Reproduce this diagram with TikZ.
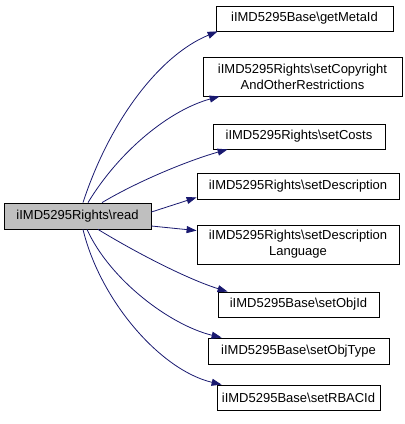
\documentclass[tikz,border=0pt]{standalone}
\usepackage{fontspec}
\setmainfont{Liberation Sans}
\usetikzlibrary{arrows.meta}
\definecolor{edgeblue}{RGB}{25,25,112}
\definecolor{callgray}{RGB}{191,191,191}

\begin{document}
\begin{tikzpicture}[x=1pt, y=-1pt,
  fn/.style={draw, rectangle, inner sep=0pt, align=center,
    font=\fontsize{13}{16}\selectfont, line width=0.8pt},
  call/.style={draw=edgeblue, line width=0.8pt,
    -{Triangle[length=10pt, width=7pt, fill=edgeblue]}}]

\useasboundingbox (0,0) rectangle (405,424);

% caller
\node[fn, fill=callgray, minimum width=147pt, minimum height=26pt] (read) at (77.5,216) {iIMD5295Rights\textbackslash read};

% callees
\node[fn, minimum width=177pt, minimum height=25pt] (meta) at (304.5,18.5) {iIMD5295Base\textbackslash getMetaId};
\node[fn, minimum width=199pt, minimum height=39pt] (copy) at (302.5,76.5) {iIMD5295Rights\textbackslash setCopyright\\AndOtherRestrictions};
\node[fn, minimum width=172pt, minimum height=25pt] (costs) at (299,136.5) {iIMD5295Rights\textbackslash setCosts};
\node[fn, minimum width=202pt, minimum height=26pt] (desc) at (298,186) {iIMD5295Rights\textbackslash setDescription};
\node[fn, minimum width=202pt, minimum height=39pt] (lang) at (298,244.5) {iIMD5295Rights\textbackslash setDescription\\Language};
\node[fn, minimum width=161pt, minimum height=25pt] (objid) at (298.5,304.5) {iIMD5295Base\textbackslash setObjId};
\node[fn, minimum width=181pt, minimum height=26pt] (objtype) at (298.5,351) {iIMD5295Base\textbackslash setObjType};
\node[fn, minimum width=163pt, minimum height=25pt] (rbac) at (298.5,397.5) {iIMD5295Base\textbackslash setRBACId};

% calls
\draw[call] ([xshift=5.5pt]read.north) .. controls (110,120) and (160,55) .. ([xshift=2pt]meta.south west);
\draw[call] ([xshift=10.5pt]read.north) .. controls (120,150) and (170,110) .. ([xshift=17pt]copy.south west);
\draw[call] ([xshift=24.5pt]read.north) .. controls (140,180) and (190,160) .. ([xshift=15pt]costs.south west);
\draw[call] ([yshift=4pt]read.east) -- ([yshift=2pt]desc.south west);
\draw[call] ([yshift=-10pt]read.east) -- ([yshift=-6pt]lang.north west);
\draw[call] ([xshift=20.5pt]read.south) .. controls (140,255) and (190,280) .. ([xshift=10pt]objid.north west);
\draw[call] ([xshift=9.5pt]read.south) .. controls (110,280) and (170,325) .. ([xshift=14pt]objtype.north west);
\draw[call] ([xshift=5.5pt]read.south) .. controls (100,300) and (160,370) .. ([xshift=5pt]rbac.north west);
\end{tikzpicture}
\end{document}
